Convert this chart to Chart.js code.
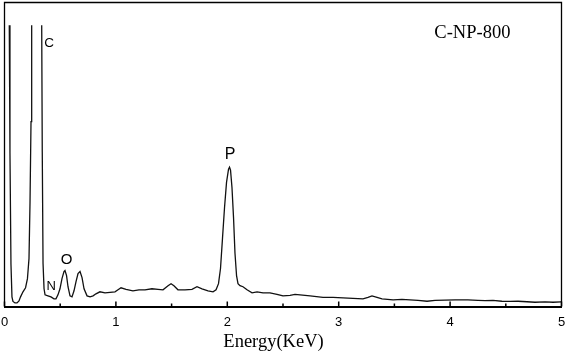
<!DOCTYPE html>
<html>
<head>
<meta charset="utf-8">
<script src="https://cdn.jsdelivr.net/npm/chart.js@4.4.1/dist/chart.umd.min.js"></script>
<style>
html,body{margin:0;padding:0;background:#fff;}
#wrap{width:567px;height:352px;position:relative;}
</style>
</head>
<body>
<div id="wrap"><canvas id="c" width="567" height="352"></canvas></div>
<script>
// Energy (KeV) and counts (null = line break where peaks run off-scale)
const energy = [0.043,0.049,0.058,0.067,0.076,0.094,0.112,0.130,0.144,0.166,0.189,0.206,0.220,0.229,0.238,0.244,
  0.290,
  0.334,0.339,0.346,0.355,0.364,0.390,0.417,0.444,0.462,0.480,0.498,0.516,0.534,0.543,0.557,0.570,0.588,0.606,0.624,0.642,0.660,0.678,0.696,0.714,0.741,0.768,0.795,0.821,0.857,0.902,0.947,0.992,1.019,1.046,1.091,1.153,1.207,1.261,1.324,1.378,1.423,1.468,1.495,1.521,1.557,1.620,1.683,1.728,1.773,1.827,1.872,1.899,1.921,1.939,1.957,1.975,1.993,2.011,2.020,2.029,2.042,2.056,2.069,2.083,2.096,2.114,2.141,2.177,2.222,2.267,2.321,2.383,2.446,2.500,2.563,2.608,2.653,2.743,2.859,2.949,3.039,3.128,3.218,3.263,3.299,3.344,3.389,3.488,3.568,3.640,3.712,3.793,3.865,3.954,4.044,4.160,4.250,4.313,4.385,4.465,4.538,4.610,4.690,4.762,4.852,4.924,4.996];
const counts = [277.5,152,42,9.5,5,3.5,3.5,5.5,9.5,14.5,18.5,27.5,47.5,102.5,182.5,277.5,
  null,
  277.5,152.5,42.5,17.5,11.5,10.5,9.5,7.5,7.5,11.5,17.5,27.5,34.5,35.5,30.5,19.5,10.5,9.5,15.5,24.5,32.5,34.5,28.5,17.5,10.5,9.5,10.5,12.5,14.5,13.5,14,14.5,16.5,18.5,17,15.5,16.5,16.5,17.5,17,16.5,20.5,22.5,20.5,16.5,16.5,17,19.5,17.5,15.5,14.5,16.5,22.5,37.5,67.5,97.5,122.5,135.5,137.5,134.5,117.5,87.5,52.5,30.5,22.5,20.5,19.5,16.5,13.5,14.5,13.5,13.5,12,10.5,11,12,11.5,10.5,9,9,8.5,8,7.5,9,10.5,9,7.5,6.5,7,6.5,6,5.2,6,6.2,6.5,6.5,6,5.8,6,5.2,5,5.2,4.7,4.2,4.5,4.2,4.5];
const xTicks = [0,1,2,3,4,5];
const minorTicks = [0.5,1.5,2.5,3.5,4.5];
const peakNames = ['C','N','O','P'];
const peakEnergy = [0.40,0.42,0.557,2.024];
const peakCounts = [260,20,46,150];
const sampleName = 'C-NP-800';
const xTitle = 'Energy(KeV)';

const peakFont = [13.5,13,15,16];

const points = energy.map((e,i)=>({x:e,y:counts[i]}));

const framePlugin = {
  id:'frame',
  afterDraw(chart){
    const {ctx, chartArea:a, scales:{x,y}} = chart;
    ctx.save();
    ctx.strokeStyle='#000';
    ctx.lineWidth=1.3;
    ctx.beginPath();
    ctx.moveTo(a.left, a.bottom);
    ctx.lineTo(a.left, a.top);
    ctx.lineTo(a.right, a.top);
    ctx.lineTo(a.right, a.bottom);
    ctx.stroke();
    // inward ticks
    ctx.lineWidth=1.5;
    ctx.beginPath();
    xTicks.forEach(v=>{const px=x.getPixelForValue(v); ctx.moveTo(px,a.bottom); ctx.lineTo(px,a.bottom-5);});
    minorTicks.forEach(v=>{const px=x.getPixelForValue(v); ctx.moveTo(px,a.bottom); ctx.lineTo(px,a.bottom-3);});
    ctx.stroke();
    // peak labels
    ctx.fillStyle='#000';
    ctx.textAlign='center';
    ctx.textBaseline='middle';
    peakNames.forEach((n,i)=>{
      ctx.font = peakFont[i]+'px "Liberation Sans", Arial, sans-serif';
      ctx.fillText(n, x.getPixelForValue(peakEnergy[i]), y.getPixelForValue(peakCounts[i]));
    });
    // sample name
    ctx.font='18.5px "Liberation Serif", "Times New Roman", serif';
    ctx.textBaseline='alphabetic';
    ctx.fillText(sampleName, x.getPixelForValue(4.2), y.getPixelForValue(265));
    // axis title
    ctx.font='18.5px "Liberation Serif", "Times New Roman", serif';
    ctx.fillText(xTitle, x.getPixelForValue(2.415), 346.5);
    ctx.restore();
  }
};

new Chart(document.getElementById('c'), {
  type:'line',
  data:{datasets:[{data:points, borderColor:'#111', borderWidth:1.3, pointRadius:0, pointHoverRadius:0, pointBorderWidth:0, pointHoverBorderWidth:0, tension:0, spanGaps:false, fill:false}]},
  options:{
    responsive:false, animation:false, devicePixelRatio:1,
    events:[],
    layout:{autoPadding:false, padding:{left:4.5,right:5.5,top:2.5,bottom:14.5}},
    plugins:{legend:{display:false}, tooltip:{enabled:false}},
    scales:{
      x:{type:'linear', min:0, max:5,
        afterBuildTicks(s){ s.ticks = xTicks.map(v=>({value:v})); },
        ticks:{font:{family:'"Liberation Sans", Arial, sans-serif', size:13, lineHeight:'31px'}, color:'#000', padding:0, maxRotation:0,
          callback:(v)=>String(v)},
        grid:{display:false, drawTicks:false},
        border:{display:true, color:'#000', width:2}
      },
      y:{type:'linear', min:0, max:300, display:false}
    }
  },
  plugins:[framePlugin]
});
</script>
</body>
</html>
